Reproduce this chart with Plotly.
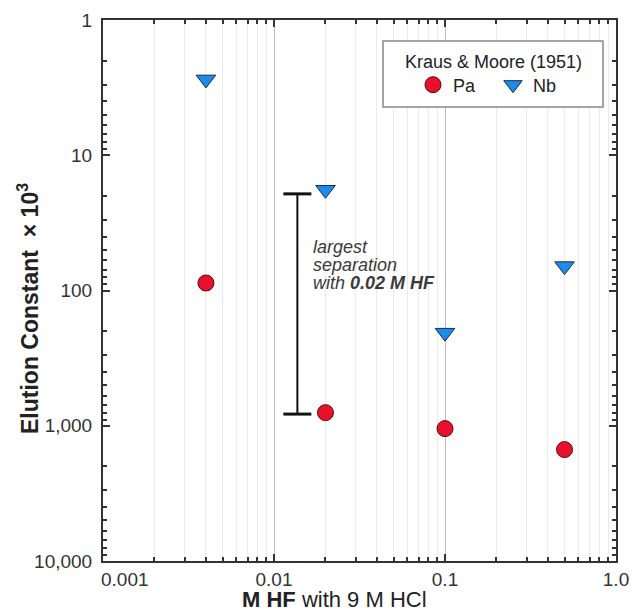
import plotly.graph_objects as go
import math

# ---- data ----
hf_molarity = [0.004, 0.02, 0.1, 0.5]
pa_elution = [88, 800, 1050, 1500]
nb_elution = [2.75, 18, 205, 66]

sep_x = [0.0137, 0.0137]
sep_y = [19.3, 820]

x_tickvals = [0.001, 0.01, 0.1, 1.0]
x_ticktext = ["", "0.01", "0.1", "1.0"]   # "0.001" drawn separately (shifted right, as in the reference)
y_tickvals = [1, 10, 100, 1000, 10000]
y_ticktext = ["1", "10", "100", "1,000", "10,000"]

FONT = "Liberation Sans, Arial, Helvetica, sans-serif"

fig = go.Figure()

fig.add_trace(go.Scatter(
    x=sep_x, y=sep_y, mode="lines+markers",
    line=dict(color="#111111", width=2),
    marker=dict(symbol="line-ew", size=20, line=dict(width=3, color="#111111")),
    showlegend=False, hoverinfo="skip"))

fig.add_trace(go.Scatter(
    x=hf_molarity, y=pa_elution, mode="markers", name="Pa",
    marker=dict(symbol="circle", size=16, color="#E8102A",
                line=dict(color="#5a0a10", width=1))))

fig.add_trace(go.Scatter(
    x=hf_molarity, y=nb_elution, mode="markers", name="Nb",
    marker=dict(symbol="triangle-down", size=17, color="#1C8CE8",
                line=dict(color="#1a2a4a", width=1))))

# annotation lines
note_lines = ["<i>largest</i>", "<i>separation</i>", "<i>with <b>0.02 M HF</b></i>"]
note_y = [0.5804, 0.5471, 0.5139]
for txt, yy in zip(note_lines, note_y):
    fig.add_annotation(x=0.4055, y=yy, xref="paper", yref="paper",
                       text=txt, showarrow=False, xanchor="left", yanchor="middle",
                       font=dict(family=FONT, size=18, color="#3a3a3a"))

# first x tick label, left-aligned to the axis corner
fig.add_annotation(x=-0.008, y=-0.0333, xref="paper", yref="paper",
                   text="0.001", showarrow=False, xanchor="left", yanchor="middle",
                   font=dict(family=FONT, size=19, color="#333"))

# axis titles
fig.add_annotation(x=0.452, y=-0.072, xref="paper", yref="paper",
                   text="<b>M HF</b> with 9 M HCl", showarrow=False,
                   xanchor="center", yanchor="middle",
                   font=dict(family=FONT, size=22, color="#222"))
fig.add_annotation(x=-0.1462, y=0.4677, xref="paper", yref="paper",
                   text="<b>Elution Constant  × 10<sup>3</sup></b>", showarrow=False,
                   textangle=-90, xanchor="center", yanchor="middle",
                   font=dict(family=FONT, size=23, color="#222"))

# legend box + title
fig.add_shape(type="rect", xref="paper", yref="paper",
              x0=(383 - 103) / 513, x1=(603 - 103) / 513,
              y0=(561 - 107) / 541, y1=(561 - 41) / 541,
              line=dict(color="#888", width=1.5), fillcolor="white", layer="above")
fig.add_annotation(x=(493 - 103) / 513, y=(561 - 62) / 541, xref="paper", yref="paper",
                   text="Kraus & Moore (1951)", showarrow=False,
                   xanchor="center", yanchor="middle",
                   font=dict(family=FONT, size=18, color="#222"))

fig.update_xaxes(
    type="log", range=[math.log10(0.001), math.log10(1.0)],
    tickvals=x_tickvals, ticktext=x_ticktext,
    ticks="inside", ticklen=7, tickwidth=1.5, tickcolor="#333",
    showline=True, linecolor="#333", linewidth=2, mirror="ticks",
    showgrid=True, gridcolor="#bdbdbd", gridwidth=1,
    minor=dict(ticks="inside", ticklen=4, tickcolor="#333", dtick="D1",
               showgrid=True, gridcolor="#ebebeb", gridwidth=1),
    tickfont=dict(family=FONT, size=19, color="#333"),
    automargin=False, zeroline=False)

fig.update_yaxes(
    type="log", range=[math.log10(10000), math.log10(1)],
    tickvals=y_tickvals, ticktext=y_ticktext,
    ticks="inside", ticklen=7, tickwidth=1.5, tickcolor="#333",
    showline=True, linecolor="#333", linewidth=2, mirror="ticks",
    showgrid=False,
    minor=dict(ticks="inside", ticklen=4, tickcolor="#333", dtick="D1", showgrid=False),
    tickfont=dict(family=FONT, size=19, color="#333"),
    ticklabelstandoff=5,
    automargin=False, zeroline=False)

fig.update_layout(
    width=634, height=613,
    margin=dict(l=103, r=18, t=20, b=52),
    paper_bgcolor="white", plot_bgcolor="white",
    font=dict(family=FONT, color="#222"),
    legend=dict(
        orientation="h", x=(413 - 103) / 513, xanchor="left",
        y=(561 - 85) / 541, yanchor="middle",
        bgcolor="rgba(0,0,0,0)", borderwidth=0,
        font=dict(family=FONT, size=18, color="#222"),
        itemwidth=30, entrywidth=35),
)

fig.write_html("out.html",
               config={"displayModeBar": False},
               post_script="document.body.style.margin='0';document.body.style.overflow='hidden';")
